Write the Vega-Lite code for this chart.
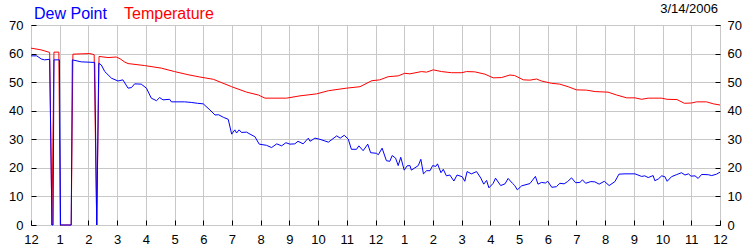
{
  "$schema": "https://vega.github.io/schema/vega-lite/v6.json",
  "width": 689,
  "height": 200,
  "autosize": {"type": "none"},
  "padding": {"left": 31, "top": 25, "right": 30, "bottom": 25},
  "background": "white",
  "config": {
    "view": {"stroke": "#000", "strokeWidth": 1},
    "font": "Liberation Sans",
    "axis": {
      "domain": false,
      "title": null,
      "labelFont": "Liberation Sans",
      "labelFontSize": 13,
      "labelColor": "#000",
      "tickColor": "#000",
      "tickSize": -5,
      "gridColor": "#c8c8c8",
      "gridWidth": 1,
      "labelFlush": false,
      "labelOverlap": false
    }
  },
  "title": {
    "text": "3/14/2006",
    "anchor": "end",
    "frame": "group",
    "font": "Liberation Sans",
    "fontSize": 13,
    "fontWeight": "normal",
    "color": "#000",
    "offset": 8,
    "dx": -2,
    "dy": 18
  },
  "data": {
    "values": [
      {"s": "Temperature", "h": 0, "v": 61.9},
      {"s": "Temperature", "h": 0.35, "v": 61.3},
      {"s": "Temperature", "h": 0.65, "v": 60.4},
      {"s": "Temperature", "h": 0.73, "v": 0},
      {"s": "Temperature", "h": 0.8, "v": 60.5},
      {"s": "Temperature", "h": 0.97, "v": 60.5},
      {"s": "Temperature", "h": 1.02, "v": 0},
      {"s": "Temperature", "h": 1.4, "v": 0},
      {"s": "Temperature", "h": 1.46, "v": 59.8},
      {"s": "Temperature", "h": 1.75, "v": 59.9},
      {"s": "Temperature", "h": 2.05, "v": 60.0},
      {"s": "Temperature", "h": 2.2, "v": 59.6},
      {"s": "Temperature", "h": 2.29, "v": 0},
      {"s": "Temperature", "h": 2.37, "v": 59.0},
      {"s": "Temperature", "h": 2.68, "v": 58.6},
      {"s": "Temperature", "h": 2.97, "v": 58.8},
      {"s": "Temperature", "h": 3.1, "v": 58.2},
      {"s": "Temperature", "h": 3.27, "v": 57.0},
      {"s": "Temperature", "h": 3.38, "v": 56.5},
      {"s": "Temperature", "h": 3.96, "v": 55.8},
      {"s": "Temperature", "h": 4.54, "v": 54.9},
      {"s": "Temperature", "h": 5.0, "v": 53.7},
      {"s": "Temperature", "h": 5.47, "v": 52.6},
      {"s": "Temperature", "h": 5.88, "v": 51.8},
      {"s": "Temperature", "h": 6.35, "v": 51.0},
      {"s": "Temperature", "h": 6.99, "v": 48.4},
      {"s": "Temperature", "h": 7.51, "v": 46.5},
      {"s": "Temperature", "h": 7.92, "v": 45.5},
      {"s": "Temperature", "h": 8.15, "v": 44.4},
      {"s": "Temperature", "h": 8.9, "v": 44.4},
      {"s": "Temperature", "h": 9.37, "v": 45.2},
      {"s": "Temperature", "h": 9.95, "v": 45.9},
      {"s": "Temperature", "h": 10.36, "v": 47.0},
      {"s": "Temperature", "h": 10.99, "v": 47.9},
      {"s": "Temperature", "h": 11.46, "v": 48.4},
      {"s": "Temperature", "h": 11.87, "v": 50.5},
      {"s": "Temperature", "h": 12.15, "v": 50.8},
      {"s": "Temperature", "h": 12.44, "v": 51.9},
      {"s": "Temperature", "h": 12.79, "v": 52.2},
      {"s": "Temperature", "h": 13.02, "v": 53.1},
      {"s": "Temperature", "h": 13.2, "v": 52.9},
      {"s": "Temperature", "h": 13.6, "v": 53.7},
      {"s": "Temperature", "h": 13.78, "v": 53.5},
      {"s": "Temperature", "h": 14.01, "v": 54.3},
      {"s": "Temperature", "h": 14.3, "v": 53.7},
      {"s": "Temperature", "h": 14.65, "v": 53.3},
      {"s": "Temperature", "h": 15.0, "v": 53.3},
      {"s": "Temperature", "h": 15.17, "v": 53.7},
      {"s": "Temperature", "h": 15.46, "v": 53.6},
      {"s": "Temperature", "h": 15.81, "v": 52.8},
      {"s": "Temperature", "h": 16.1, "v": 51.5},
      {"s": "Temperature", "h": 16.39, "v": 51.6},
      {"s": "Temperature", "h": 16.68, "v": 52.5},
      {"s": "Temperature", "h": 16.85, "v": 52.3},
      {"s": "Temperature", "h": 17.15, "v": 50.8},
      {"s": "Temperature", "h": 17.38, "v": 50.7},
      {"s": "Temperature", "h": 17.61, "v": 51.1},
      {"s": "Temperature", "h": 17.78, "v": 50.4},
      {"s": "Temperature", "h": 18.13, "v": 49.6},
      {"s": "Temperature", "h": 18.42, "v": 49.3},
      {"s": "Temperature", "h": 18.71, "v": 48.4},
      {"s": "Temperature", "h": 19.0, "v": 47.3},
      {"s": "Temperature", "h": 19.35, "v": 47.2},
      {"s": "Temperature", "h": 19.65, "v": 46.7},
      {"s": "Temperature", "h": 20.1, "v": 46.5},
      {"s": "Temperature", "h": 20.4, "v": 45.5},
      {"s": "Temperature", "h": 20.75, "v": 44.5},
      {"s": "Temperature", "h": 21.04, "v": 44.5},
      {"s": "Temperature", "h": 21.27, "v": 44.0},
      {"s": "Temperature", "h": 21.5, "v": 44.4},
      {"s": "Temperature", "h": 21.97, "v": 44.4},
      {"s": "Temperature", "h": 22.15, "v": 44.0},
      {"s": "Temperature", "h": 22.5, "v": 43.9},
      {"s": "Temperature", "h": 22.76, "v": 42.6},
      {"s": "Temperature", "h": 23.01, "v": 42.7},
      {"s": "Temperature", "h": 23.18, "v": 43.1},
      {"s": "Temperature", "h": 23.53, "v": 43.1},
      {"s": "Temperature", "h": 23.77, "v": 42.4},
      {"s": "Temperature", "h": 24, "v": 42.0},
      {"s": "Dew Point", "h": 0, "v": 59.2},
      {"s": "Dew Point", "h": 0.2, "v": 59.2},
      {"s": "Dew Point", "h": 0.36, "v": 58.1},
      {"s": "Dew Point", "h": 0.47, "v": 57.8},
      {"s": "Dew Point", "h": 0.65, "v": 58.0},
      {"s": "Dew Point", "h": 0.73, "v": 0},
      {"s": "Dew Point", "h": 0.77, "v": 0},
      {"s": "Dew Point", "h": 0.8, "v": 57.8},
      {"s": "Dew Point", "h": 0.99, "v": 57.8},
      {"s": "Dew Point", "h": 1.03, "v": 0},
      {"s": "Dew Point", "h": 1.4, "v": 0},
      {"s": "Dew Point", "h": 1.44, "v": 57.8},
      {"s": "Dew Point", "h": 1.75, "v": 57.1},
      {"s": "Dew Point", "h": 2.22, "v": 56.9},
      {"s": "Dew Point", "h": 2.29, "v": 0},
      {"s": "Dew Point", "h": 2.36, "v": 56.6},
      {"s": "Dew Point", "h": 2.45, "v": 56.0},
      {"s": "Dew Point", "h": 2.57, "v": 53.7},
      {"s": "Dew Point", "h": 2.8, "v": 51.4},
      {"s": "Dew Point", "h": 3.03, "v": 50.4},
      {"s": "Dew Point", "h": 3.2, "v": 50.8},
      {"s": "Dew Point", "h": 3.38, "v": 47.9},
      {"s": "Dew Point", "h": 3.5, "v": 48.1},
      {"s": "Dew Point", "h": 3.61, "v": 49.4},
      {"s": "Dew Point", "h": 3.84, "v": 49.3},
      {"s": "Dew Point", "h": 4.02, "v": 47.9},
      {"s": "Dew Point", "h": 4.19, "v": 44.4},
      {"s": "Dew Point", "h": 4.37, "v": 43.5},
      {"s": "Dew Point", "h": 4.48, "v": 44.6},
      {"s": "Dew Point", "h": 4.6, "v": 43.8},
      {"s": "Dew Point", "h": 4.83, "v": 44.0},
      {"s": "Dew Point", "h": 4.89, "v": 43.1},
      {"s": "Dew Point", "h": 5.35, "v": 43.1},
      {"s": "Dew Point", "h": 5.58, "v": 42.9},
      {"s": "Dew Point", "h": 5.8, "v": 42.6},
      {"s": "Dew Point", "h": 6.0, "v": 42.4},
      {"s": "Dew Point", "h": 6.23, "v": 40.3},
      {"s": "Dew Point", "h": 6.41, "v": 38.5},
      {"s": "Dew Point", "h": 6.53, "v": 38.6},
      {"s": "Dew Point", "h": 6.7, "v": 37.7},
      {"s": "Dew Point", "h": 6.87, "v": 37.0},
      {"s": "Dew Point", "h": 6.99, "v": 31.8},
      {"s": "Dew Point", "h": 7.1, "v": 33.3},
      {"s": "Dew Point", "h": 7.16, "v": 32.2},
      {"s": "Dew Point", "h": 7.25, "v": 33.3},
      {"s": "Dew Point", "h": 7.33, "v": 32.4},
      {"s": "Dew Point", "h": 7.51, "v": 32.5},
      {"s": "Dew Point", "h": 7.63, "v": 31.8},
      {"s": "Dew Point", "h": 7.8, "v": 30.9},
      {"s": "Dew Point", "h": 7.95, "v": 28.3},
      {"s": "Dew Point", "h": 8.2, "v": 27.9},
      {"s": "Dew Point", "h": 8.38, "v": 27.1},
      {"s": "Dew Point", "h": 8.56, "v": 28.4},
      {"s": "Dew Point", "h": 8.73, "v": 27.7},
      {"s": "Dew Point", "h": 8.88, "v": 28.8},
      {"s": "Dew Point", "h": 9.02, "v": 28.3},
      {"s": "Dew Point", "h": 9.19, "v": 28.4},
      {"s": "Dew Point", "h": 9.3, "v": 29.3},
      {"s": "Dew Point", "h": 9.48, "v": 28.4},
      {"s": "Dew Point", "h": 9.66, "v": 30.4},
      {"s": "Dew Point", "h": 9.72, "v": 29.3},
      {"s": "Dew Point", "h": 9.89, "v": 30.4},
      {"s": "Dew Point", "h": 10.06, "v": 30.0},
      {"s": "Dew Point", "h": 10.36, "v": 29.0},
      {"s": "Dew Point", "h": 10.65, "v": 31.2},
      {"s": "Dew Point", "h": 10.77, "v": 30.4},
      {"s": "Dew Point", "h": 10.91, "v": 31.4},
      {"s": "Dew Point", "h": 11.05, "v": 30.1},
      {"s": "Dew Point", "h": 11.16, "v": 26.5},
      {"s": "Dew Point", "h": 11.34, "v": 26.5},
      {"s": "Dew Point", "h": 11.42, "v": 27.7},
      {"s": "Dew Point", "h": 11.57, "v": 26.0},
      {"s": "Dew Point", "h": 11.73, "v": 28.3},
      {"s": "Dew Point", "h": 11.83, "v": 25.3},
      {"s": "Dew Point", "h": 12.03, "v": 25.1},
      {"s": "Dew Point", "h": 12.1, "v": 24.6},
      {"s": "Dew Point", "h": 12.23, "v": 26.9},
      {"s": "Dew Point", "h": 12.38, "v": 22.5},
      {"s": "Dew Point", "h": 12.5, "v": 22.3},
      {"s": "Dew Point", "h": 12.58, "v": 24.3},
      {"s": "Dew Point", "h": 12.7, "v": 23.4},
      {"s": "Dew Point", "h": 12.79, "v": 20.8},
      {"s": "Dew Point", "h": 12.88, "v": 23.7},
      {"s": "Dew Point", "h": 13.0, "v": 19.2},
      {"s": "Dew Point", "h": 13.1, "v": 20.7},
      {"s": "Dew Point", "h": 13.2, "v": 20.8},
      {"s": "Dew Point", "h": 13.25, "v": 19.2},
      {"s": "Dew Point", "h": 13.49, "v": 20.8},
      {"s": "Dew Point", "h": 13.58, "v": 23.0},
      {"s": "Dew Point", "h": 13.67, "v": 17.9},
      {"s": "Dew Point", "h": 13.78, "v": 19.0},
      {"s": "Dew Point", "h": 13.9, "v": 19.0},
      {"s": "Dew Point", "h": 13.99, "v": 20.8},
      {"s": "Dew Point", "h": 14.1, "v": 20.5},
      {"s": "Dew Point", "h": 14.16, "v": 21.4},
      {"s": "Dew Point", "h": 14.28, "v": 18.3},
      {"s": "Dew Point", "h": 14.36, "v": 19.5},
      {"s": "Dew Point", "h": 14.47, "v": 17.2},
      {"s": "Dew Point", "h": 14.59, "v": 17.5},
      {"s": "Dew Point", "h": 14.73, "v": 15.4},
      {"s": "Dew Point", "h": 14.84, "v": 17.5},
      {"s": "Dew Point", "h": 15.02, "v": 16.9},
      {"s": "Dew Point", "h": 15.11, "v": 15.3},
      {"s": "Dew Point", "h": 15.19, "v": 18.7},
      {"s": "Dew Point", "h": 15.34, "v": 17.9},
      {"s": "Dew Point", "h": 15.52, "v": 18.7},
      {"s": "Dew Point", "h": 15.67, "v": 16.4},
      {"s": "Dew Point", "h": 15.77, "v": 14.3},
      {"s": "Dew Point", "h": 15.87, "v": 15.6},
      {"s": "Dew Point", "h": 15.95, "v": 13.0},
      {"s": "Dew Point", "h": 16.1, "v": 14.6},
      {"s": "Dew Point", "h": 16.18, "v": 16.4},
      {"s": "Dew Point", "h": 16.36, "v": 13.8},
      {"s": "Dew Point", "h": 16.51, "v": 14.4},
      {"s": "Dew Point", "h": 16.62, "v": 16.3},
      {"s": "Dew Point", "h": 16.77, "v": 14.6},
      {"s": "Dew Point", "h": 16.85, "v": 13.8},
      {"s": "Dew Point", "h": 16.94, "v": 12.3},
      {"s": "Dew Point", "h": 17.09, "v": 13.7},
      {"s": "Dew Point", "h": 17.38, "v": 14.5},
      {"s": "Dew Point", "h": 17.57, "v": 17.0},
      {"s": "Dew Point", "h": 17.66, "v": 14.3},
      {"s": "Dew Point", "h": 17.78, "v": 14.9},
      {"s": "Dew Point", "h": 17.92, "v": 14.7},
      {"s": "Dew Point", "h": 18.0, "v": 15.3},
      {"s": "Dew Point", "h": 18.14, "v": 13.2},
      {"s": "Dew Point", "h": 18.3, "v": 13.4},
      {"s": "Dew Point", "h": 18.42, "v": 14.6},
      {"s": "Dew Point", "h": 18.57, "v": 14.4},
      {"s": "Dew Point", "h": 18.69, "v": 15.2},
      {"s": "Dew Point", "h": 18.83, "v": 16.5},
      {"s": "Dew Point", "h": 18.97, "v": 14.8},
      {"s": "Dew Point", "h": 19.12, "v": 14.9},
      {"s": "Dew Point", "h": 19.21, "v": 15.8},
      {"s": "Dew Point", "h": 19.32, "v": 14.6},
      {"s": "Dew Point", "h": 19.5, "v": 15.2},
      {"s": "Dew Point", "h": 19.64, "v": 15.1},
      {"s": "Dew Point", "h": 19.79, "v": 14.3},
      {"s": "Dew Point", "h": 19.97, "v": 15.3},
      {"s": "Dew Point", "h": 20.14, "v": 13.8},
      {"s": "Dew Point", "h": 20.34, "v": 15.2},
      {"s": "Dew Point", "h": 20.48, "v": 17.8},
      {"s": "Dew Point", "h": 20.69, "v": 17.9},
      {"s": "Dew Point", "h": 21.04, "v": 17.9},
      {"s": "Dew Point", "h": 21.27, "v": 17.0},
      {"s": "Dew Point", "h": 21.38, "v": 17.2},
      {"s": "Dew Point", "h": 21.5, "v": 16.6},
      {"s": "Dew Point", "h": 21.67, "v": 17.3},
      {"s": "Dew Point", "h": 21.73, "v": 15.5},
      {"s": "Dew Point", "h": 21.85, "v": 16.1},
      {"s": "Dew Point", "h": 21.97, "v": 17.2},
      {"s": "Dew Point", "h": 22.08, "v": 16.9},
      {"s": "Dew Point", "h": 22.16, "v": 15.3},
      {"s": "Dew Point", "h": 22.31, "v": 16.9},
      {"s": "Dew Point", "h": 22.48, "v": 17.6},
      {"s": "Dew Point", "h": 22.66, "v": 18.3},
      {"s": "Dew Point", "h": 22.78, "v": 17.5},
      {"s": "Dew Point", "h": 22.9, "v": 17.9},
      {"s": "Dew Point", "h": 22.99, "v": 17.1},
      {"s": "Dew Point", "h": 23.13, "v": 17.2},
      {"s": "Dew Point", "h": 23.24, "v": 16.3},
      {"s": "Dew Point", "h": 23.36, "v": 17.7},
      {"s": "Dew Point", "h": 23.59, "v": 17.6},
      {"s": "Dew Point", "h": 23.71, "v": 17.3},
      {"s": "Dew Point", "h": 23.88, "v": 17.8},
      {"s": "Dew Point", "h": 24, "v": 18.5}
    ]
  },
  "encoding": {
    "x": {
      "field": "h",
      "type": "quantitative",
      "scale": {"domain": [0, 24], "nice": false, "zero": false},
      "axis": {
        "values": [0,1,2,3,4,5,6,7,8,9,10,11,12,13,14,15,16,17,18,19,20,21,22,23,24],
        "labelExpr": "datum.value % 12 == 0 ? '12' : '' + (datum.value % 12)",
        "grid": true,
        "labelPadding": 13
      }
    },
    "color": {
      "field": "s",
      "type": "nominal",
      "scale": {"domain": ["Dew Point", "Temperature"], "range": ["#0000ff", "#ff0000"]},
      "legend": {
        "orient": "none",
        "legendX": -13,
        "legendY": -19,
        "direction": "horizontal",
        "title": null,
        "symbolSize": 0,
        "symbolOpacity": 0,
        "symbolStrokeWidth": 0,
        "labelOffset": 0,
        "columnPadding": 1,
        "labelFont": "Liberation Sans",
        "labelFontSize": 16,
        "labelColor": {"expr": "datum.label == 'Dew Point' ? '#0000ff' : '#ff0000'"}
      }
    }
  },
  "layer": [
    {
      "transform": [{"filter": "datum.s == 'Temperature'"}],
      "mark": {"type": "line", "strokeWidth": 1},
      "encoding": {
        "y": {
          "field": "v",
          "type": "quantitative",
          "scale": {"domain": [0, 70], "nice": false},
          "axis": {"orient": "left", "values": [0,10,20,30,40,50,60,70], "grid": true, "labelPadding": 13}
        }
      }
    },
    {
      "transform": [{"filter": "datum.s == 'Dew Point'"}],
      "mark": {"type": "line", "strokeWidth": 1},
      "encoding": {
        "y": {
          "field": "v",
          "type": "quantitative",
          "scale": {"domain": [0, 70], "nice": false},
          "axis": {"orient": "right", "values": [0,10,20,30,40,50,60,70], "grid": false, "labelPadding": 12}
        }
      }
    }
  ],
  "resolve": {"axis": {"y": "independent"}}
}
